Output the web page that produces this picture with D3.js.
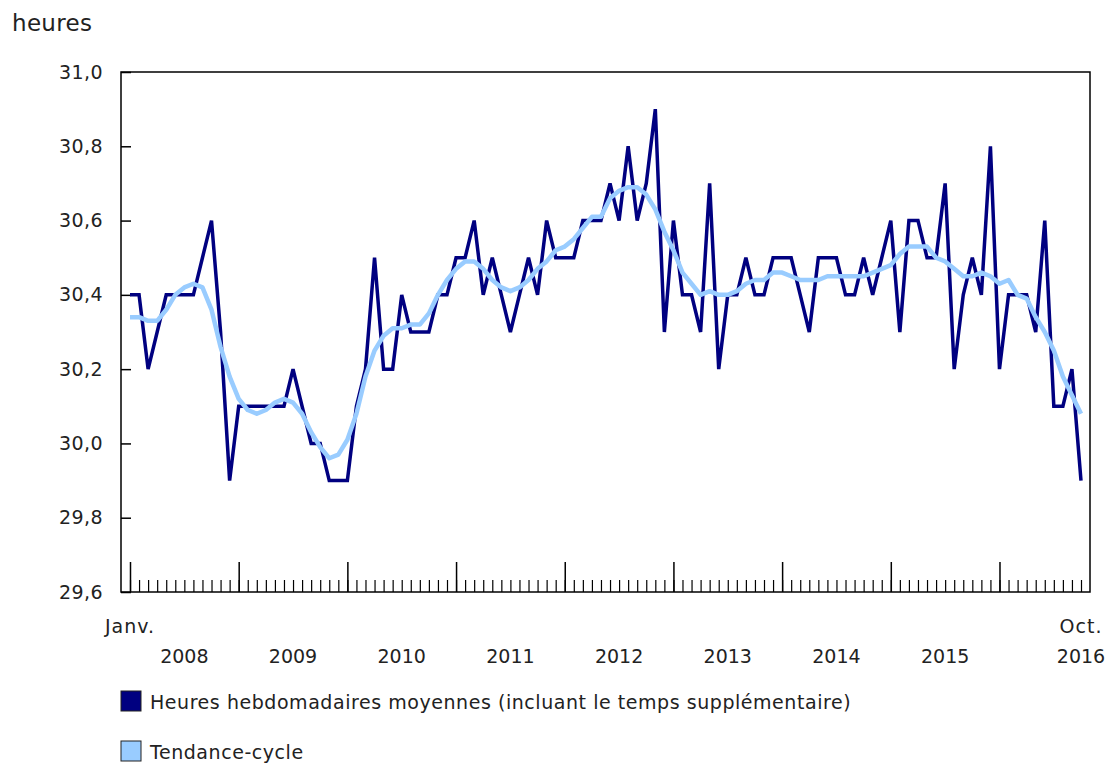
<!DOCTYPE html>
<html>
  <head>
    <meta charset="utf-8">
    <title>Heures hebdomadaires moyennes</title>
    <script src="https://d3js.org/d3.v7.min.js"></script>
    <style>
      body { margin: 0; background: #fff; }
      text { font-family: "DejaVu Sans", Verdana, sans-serif; fill: #222; }
    </style>
  </head>
  <body>
    <svg id="chart" width="1110" height="764"></svg>
    <script>
      // monthly data, Jan 2008 -> Oct 2016
      let years = [2008, 2009, 2010, 2011, 2012, 2013, 2014, 2015, 2016];
      let lastYearMonths = 10;

      let hours = [
        30.4, 30.4, 30.2, 30.3, 30.4, 30.4, 30.4, 30.4, 30.5, 30.6, 30.3, 29.9, // 2008
        30.1, 30.1, 30.1, 30.1, 30.1, 30.1, 30.2, 30.1, 30.0, 30.0, 29.9, 29.9, // 2009
        29.9, 30.1, 30.2, 30.5, 30.2, 30.2, 30.4, 30.3, 30.3, 30.3, 30.4, 30.4, // 2010
        30.5, 30.5, 30.6, 30.4, 30.5, 30.4, 30.3, 30.4, 30.5, 30.4, 30.6, 30.5, // 2011
        30.5, 30.5, 30.6, 30.6, 30.6, 30.7, 30.6, 30.8, 30.6, 30.7, 30.9, 30.3, // 2012
        30.6, 30.4, 30.4, 30.3, 30.7, 30.2, 30.4, 30.4, 30.5, 30.4, 30.4, 30.5, // 2013
        30.5, 30.5, 30.4, 30.3, 30.5, 30.5, 30.5, 30.4, 30.4, 30.5, 30.4, 30.5, // 2014
        30.6, 30.3, 30.6, 30.6, 30.5, 30.5, 30.7, 30.2, 30.4, 30.5, 30.4, 30.8, // 2015
        30.2, 30.4, 30.4, 30.4, 30.3, 30.6, 30.1, 30.1, 30.2, 29.9              // 2016
      ];

      let trend = [
        30.34, 30.34, 30.33, 30.33, 30.36, 30.40, 30.42, 30.43, 30.42, 30.36, 30.26, 30.18,
        30.12, 30.09, 30.08, 30.09, 30.11, 30.12, 30.11, 30.08, 30.03, 29.99, 29.96, 29.97,
        30.01, 30.08, 30.18, 30.25, 30.29, 30.31, 30.31, 30.32, 30.32, 30.35, 30.40, 30.44,
        30.47, 30.49, 30.49, 30.47, 30.44, 30.42, 30.41, 30.42, 30.44, 30.47, 30.49, 30.52,
        30.53, 30.55, 30.58, 30.61, 30.61, 30.66, 30.68, 30.69, 30.69, 30.67, 30.63, 30.57,
        30.52, 30.46, 30.43, 30.40, 30.41, 30.40, 30.40, 30.41, 30.43, 30.44, 30.44, 30.46,
        30.46, 30.45, 30.44, 30.44, 30.44, 30.45, 30.45, 30.45, 30.45, 30.45, 30.46, 30.47,
        30.48, 30.51, 30.53, 30.53, 30.53, 30.50, 30.49, 30.47, 30.45, 30.45, 30.46, 30.45,
        30.43, 30.44, 30.40, 30.39, 30.34, 30.30, 30.25, 30.18, 30.13, 30.08
      ];

      let yTicks = [29.6, 29.8, 30.0, 30.2, 30.4, 30.6, 30.8, 31.0];
      let seriesNames = [
        "Heures hebdomadaires moyennes (incluant le temps supplémentaire)",
        "Tendance-cycle"
      ];
      let colors = ["#000080", "#99ccff"];

      // month keys
      let months = [];
      years.forEach((yr) => {
        let n = yr === years[years.length - 1] ? lastYearMonths : 12;
        for (let m = 0; m < n; m++) months.push(yr + "-" + (m + 1));
      });

      let svg = d3.select("#chart");
      let plotLeft = 121, plotRight = 1090, plotTop = 72, plotBottom = 592;

      let x = d3.scalePoint().domain(months).range([130, 1081]);
      let y = d3.scaleLinear().domain([29.6, 31.0]).range([plotBottom, plotTop]);

      // y axis, ticks pointing inside
      svg.append("g")
        .attr("transform", `translate(${plotLeft},0)`)
        .call(d3.axisLeft(y).tickValues(yTicks).tickSize(-10).tickPadding(18)
          .tickFormat((d) => d3.format(".1f")(d).replace(".", ",")))
        .call((g) => g.select(".domain").remove())
        .call((g) => g.selectAll("line").attr("stroke", "#000").attr("stroke-width", 1.5))
        .call((g) => g.selectAll("text").style("font-size", "19px").attr("fill", "#222")
          .attr("font-family", null).style("letter-spacing", "0.4px"));

      // x axis: minor monthly ticks and major january ticks
      svg.append("g")
        .attr("transform", `translate(0,${plotBottom})`)
        .call(d3.axisBottom(x).tickSize(-12).tickFormat(""))
        .call((g) => g.select(".domain").remove())
        .call((g) => g.selectAll("line").attr("stroke", "#000").attr("stroke-width", 1.2));

      svg.append("g")
        .attr("transform", `translate(0,${plotBottom})`)
        .call(d3.axisBottom(x).tickValues(months.filter((m) => m.split("-")[1] === "1"))
          .tickSize(-30).tickFormat(""))
        .call((g) => g.select(".domain").remove())
        .call((g) => g.selectAll("line").attr("stroke", "#000").attr("stroke-width", 1.5));

      // frame
      svg.append("rect")
        .attr("x", plotLeft).attr("y", plotTop)
        .attr("width", plotRight - plotLeft).attr("height", plotBottom - plotTop)
        .attr("fill", "none").attr("stroke", "#000").attr("stroke-width", 1.5);

      // lines
      let line = (vals) => d3.line()
        .x((d, i) => x(months[i]))
        .y((d) => y(d))(vals);

      svg.append("path")
        .attr("d", line(hours))
        .attr("fill", "none")
        .attr("stroke", colors[0])
        .attr("stroke-width", 3.5)
        .attr("stroke-linejoin", "miter");

      svg.append("path")
        .attr("d", line(trend))
        .attr("fill", "none")
        .attr("stroke", colors[1])
        .attr("stroke-width", 4.5)
        .attr("stroke-linejoin", "round");

      // x labels
      let first = months[0], last = months[months.length - 1];
      svg.append("text").attr("x", x(first)).attr("y", 633)
        .attr("text-anchor", "middle").style("font-size", "19px")
        .style("letter-spacing", "1px").text("Janv.");
      svg.append("text").attr("x", x(last)).attr("y", 633)
        .attr("text-anchor", "middle").style("font-size", "19px")
        .style("letter-spacing", "1px").text("Oct.");

      years.forEach((yr, k) => {
        let xPos;
        if (k === years.length - 1) {
          xPos = x(last);
        } else {
          xPos = (x(yr + "-1") + x(years[k + 1] + "-1")) / 2;
        }
        svg.append("text").attr("x", xPos).attr("y", 663)
          .attr("text-anchor", "middle").style("font-size", "19px").text(yr);
      });

      // unit label
      svg.append("text").attr("x", 12).attr("y", 31)
        .style("font-size", "23px").style("letter-spacing", "0.3px").text("heures");

      // legend
      seriesNames.forEach((name, i) => {
        let ly = 691 + i * 50;
        svg.append("rect")
          .attr("x", 121).attr("y", ly)
          .attr("width", 20).attr("height", 20)
          .attr("fill", colors[i])
          .attr("stroke", "#222").attr("stroke-width", 1);
        svg.append("text")
          .attr("x", 150).attr("y", ly + 18)
          .style("font-size", "19px").style("letter-spacing", "0.55px").text(name);
      });
    </script>
  </body>
</html>
